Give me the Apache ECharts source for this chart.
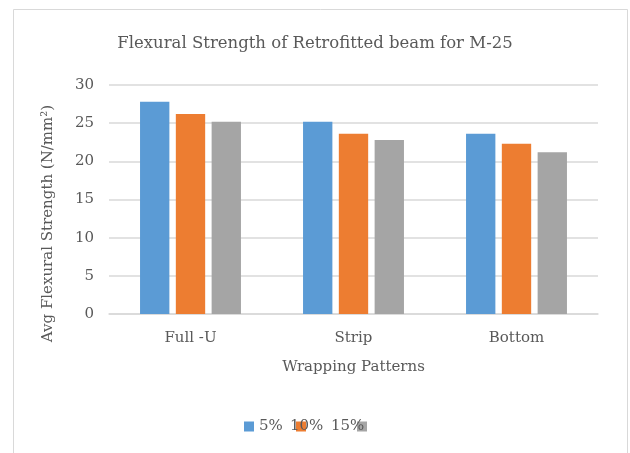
<!DOCTYPE html>
<html>
<head>
<meta charset="utf-8">
<script src="https://cdn.jsdelivr.net/npm/echarts@6/dist/echarts.min.js"></script>
<style>
  html, body { margin: 0; padding: 0; background: #ffffff; }
  #chart { width: 630px; height: 453px; }
</style>
</head>
<body>
<div id="chart"></div>
<script>
var categories = ['Full -U', 'Strip', 'Bottom'];
var seriesNames = ['5%', '10%', '15%'];
var values5 = [27.8, 25.2, 23.6];
var values10 = [26.2, 23.6, 22.3];
var values15 = [25.2, 22.8, 21.2];
var yTicks = { min: 0, max: 30, interval: 5 };
var colors = ['#5B9BD5', '#ED7D31', '#A5A5A5'];

var FONT = 'DejaVu Serif';
var TXT = '#595959';

var chart = echarts.init(document.getElementById('chart'), null, { renderer: 'canvas' });

function legendItem(name, left, pad) {
  return {
    data: [name],
    left: left,
    top: 419,
    padding: 0,
    itemWidth: 10,
    itemHeight: 10,
    itemGap: 0,
    icon: 'rect',
    selectedMode: false,
    textStyle: { fontFamily: FONT, fontSize: 15, color: TXT, padding: [0, 0, 0, pad] }
  };
}

var option = {
  backgroundColor: '#ffffff',
  animation: false,
  color: colors,
  title: {
    text: 'Flexural Strength of Retrofitted beam for M-25',
    left: 'center',
    top: 30,
    textStyle: { fontFamily: FONT, fontSize: 16.5, fontWeight: 'normal', color: TXT }
  },
  graphic: [{
    type: 'rect',
    shape: { x: 13.5, y: 9.5, width: 614, height: 470 },
    style: { fill: 'none', stroke: '#d9d9d9', lineWidth: 1 },
    silent: true
  }],
  legend: [
    legendItem('5%', 244, 0),
    legendItem('10%', 290, -21),
    legendItem('15%', 331, -41)
  ],
  grid: { left: 109, right: 32, top: 85, bottom: 139 },
  xAxis: {
    type: 'category',
    data: categories,
    name: 'Wrapping Patterns',
    nameLocation: 'middle',
    nameGap: 46,
    nameTextStyle: { fontFamily: FONT, fontSize: 15, color: TXT },
    axisLine: { lineStyle: { color: '#d9d9d9', width: 1.5 } },
    axisTick: { show: false },
    axisLabel: { fontFamily: FONT, fontSize: 15, color: TXT, margin: 17 }
  },
  yAxis: {
    type: 'value',
    min: yTicks.min,
    max: yTicks.max,
    interval: yTicks.interval,
    name: 'Avg Flexural Strength (N/mm\u00B2)',
    nameLocation: 'middle',
    nameGap: 53,
    nameTextStyle: { fontFamily: FONT, fontSize: 15, color: TXT, padding: [0, 48, 0, 0] },
    axisLine: { show: false },
    axisTick: { show: false },
    axisLabel: { fontFamily: FONT, fontSize: 15, color: TXT, margin: 15 },
    splitLine: { lineStyle: { color: '#d9d9d9', width: 1.5 } }
  },
  series: [
    { name: seriesNames[0], type: 'bar', data: values5, barWidth: '18%', barGap: '22%' },
    { name: seriesNames[1], type: 'bar', data: values10, barWidth: '18%', barGap: '22%' },
    { name: seriesNames[2], type: 'bar', data: values15, barWidth: '18%', barGap: '22%' }
  ]
};

chart.setOption(option);
</script>
</body>
</html>
